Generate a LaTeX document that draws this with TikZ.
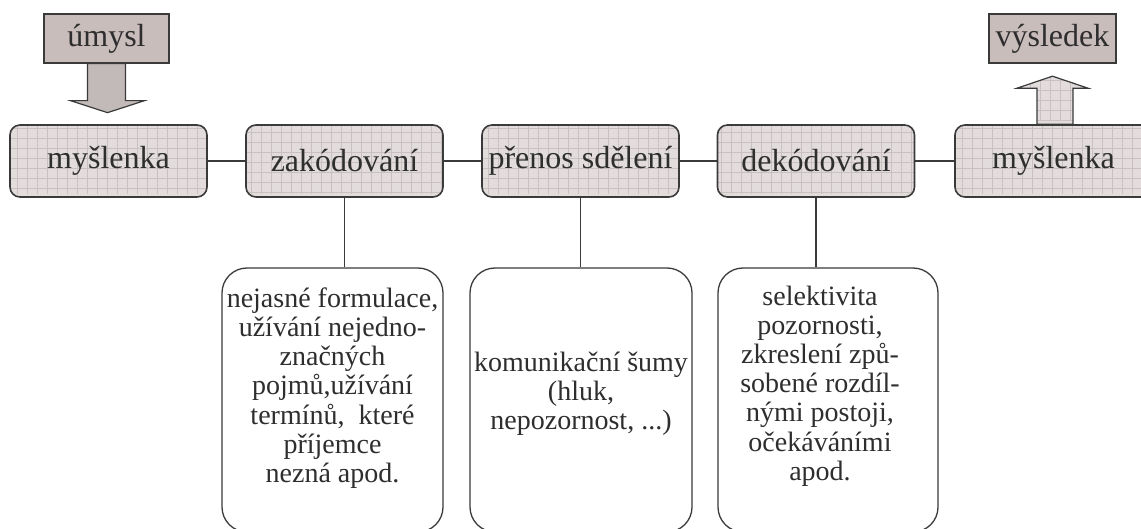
\documentclass[tikz,border=0pt]{standalone}
\usepackage{fontspec}
\setmainfont{Liberation Serif}
\usetikzlibrary{calc}
\definecolor{boxfill}{HTML}{E2DCDC}
\definecolor{gridcol}{HTML}{C9C0C0}
\definecolor{edge}{HTML}{3A3A3A}
\definecolor{topfill}{HTML}{C9BDBB}
\definecolor{arrowfill}{HTML}{C2BAB8}
\definecolor{txt}{HTML}{2E2E2E}
\tikzset{
  gridfill/.style={fill=boxfill,
    path picture={\draw[gridcol,line width=0.5pt]
      ([shift={(-3,-3)}]path picture bounding box.south west) grid[step=10pt]
      (path picture bounding box.north east);}},
  stagebox/.style={draw=edge,line width=1.6pt,rounded corners=10pt,gridfill,
    minimum width=197pt,minimum height=72pt,inner sep=0pt,text=txt,
    font=\fontsize{32}{36}\selectfont},
  endbox/.style={draw=edge,line width=1.3pt,fill=topfill,inner sep=0pt,
    minimum height=49pt,text=txt,font=\fontsize{32}{36}\selectfont},
  notebox/.style={draw=edge,line width=1.3pt,rounded corners=25pt,fill=white,
    minimum height=264pt,inner sep=0pt},
  notetext/.style={align=center,text=txt,inner sep=0pt,
    font=\fontsize{28}{29.2}\selectfont},
  link/.style={draw=edge,line width=1.6pt},
  bigarrow/.style={draw=edge,line width=1.2pt,line join=miter}
}
\begin{document}
\begin{tikzpicture}[x=1pt,y=-1pt]
\useasboundingbox (0,0) rectangle (1141,529);
\clip (0,0) rectangle (1141,529);
% stages
\node[stagebox] (m1) at (108.5,161) {myšlenka};
\node[stagebox] (zak) at (344.5,161) {zakódování};
\node[stagebox] (pre) at (580.5,161) {přenos sdělení};
\node[stagebox] (dek) at (816,161) {dekódování};
\node[stagebox] (m2) at (1053.5,161) {myšlenka};
% top boxes
\node[endbox,minimum width=125pt] (umysl) at (106.5,38.5) {úmysl};
\node[endbox,minimum width=127pt] (vys) at (1052.5,38.5) {výsledek};
% arrows
\draw[bigarrow,fill=arrowfill]
  ($(umysl.south)+(-19,0)$) -- ($(umysl.south)+(19,0)$) --
  ($(umysl.south)+(19,37)$) -- ($(umysl.south)+(38,37)$) --
  ($(umysl.south)+(1,49)$) -- ($(umysl.south)+(-36,37)$) --
  ($(umysl.south)+(-19,37)$) -- cycle;
\draw[bigarrow,gridfill]
  ($(m2.north)+(-16.5,0)$) -- ($(m2.north)+(-16.5,-36)$) --
  ($(m2.north)+(-36.5,-36)$) -- ($(m2.north)+(-1,-48)$) --
  ($(m2.north)+(34.5,-36)$) -- ($(m2.north)+(19.5,-36)$) --
  ($(m2.north)+(19.5,0)$) -- cycle;
% links between stages
\draw[link] (m1.east) -- (zak.west);
\draw[link] (zak.east) -- (pre.west);
\draw[link] (pre.east) -- (dek.west);
\draw[link] (dek.east) -- (m2.west);
% note boxes
\node[notebox,minimum width=221pt] (na) at (332.5,400) {};
\node[notebox,minimum width=222pt] (nb) at (581,400) {};
\node[notebox,minimum width=220pt] (nc) at (828,400) {};
\draw[link] (zak.south) -- (zak.south |- na.north);
\draw[link] (pre.south) -- (pre.south |- nb.north);
\draw[link] (dek.south) -- (dek.south |- nc.north);
\node[notetext] (ta) at ($(na.center)+(0,-12)$) {nejasné formulace,\\užívání nejedno-\\značných\\pojmů,užívání\\termínů,\ \ které\\příjemce\\nezná apod.};
\node[notetext] (tb) at ($(nb.center)+(0,-6)$) {komunikační šumy\\(hluk,\\nepozornost, ...)};
\node[notetext] (tc) at ($(nc.center)+(-8,-14)$) {selektivita\\pozornosti,\\zkreslení způ-\\sobené rozdíl-\\nými postoji,\\očekáváními\\apod.};
\end{tikzpicture}
\end{document}
